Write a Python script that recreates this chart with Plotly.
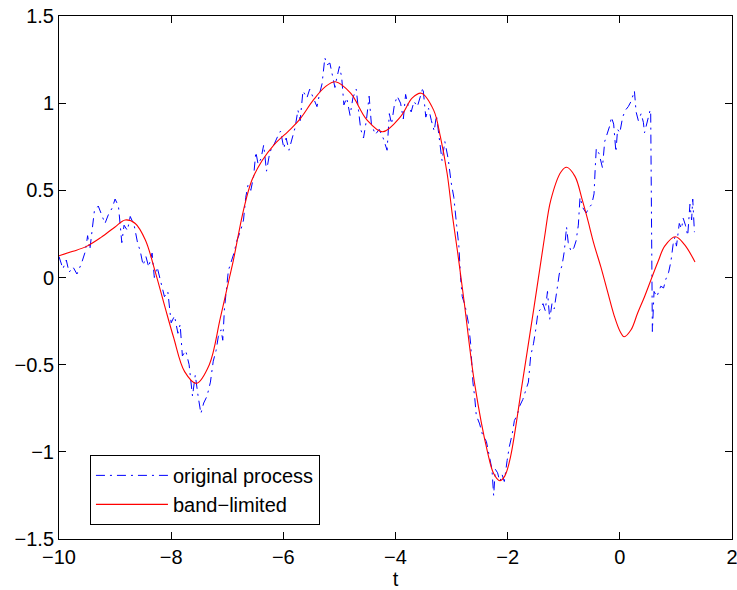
import plotly.graph_objects as go

# ---- band-limited (red) curve: sample points ----
t_band = [-10.0, -9.75, -9.5, -9.25, -9.0, -8.82, -8.64, -8.46, -8.29, -8.11,
          -7.96, -7.76, -7.55, -7.32, -7.125, -6.96, -6.89, -6.71, -6.56,
          -6.38, -6.17, -5.875, -5.70, -5.46, -5.25, -5.07, -4.80, -4.51, -4.23,
          -3.91, -3.70, -3.54, -3.32, -3.20, -3.08, -2.99, -2.89, -2.78, -2.59,
          -2.36, -2.25, -2.14, -2.05, -1.95, -1.74, -1.53, -1.35, -1.23, -1.05,
          -0.95, -0.80, -0.67, -0.58, -0.46, -0.34, -0.22, -0.10, 0.005, 0.077,
          0.20, 0.316, 0.44, 0.554, 0.68, 0.80, 0.99, 1.15, 1.34]
y_band = [0.125, 0.15, 0.18, 0.23, 0.29, 0.33, 0.31, 0.215, 0.04, -0.17,
          -0.34, -0.54, -0.607, -0.50, -0.235, 0.0, 0.10, 0.387, 0.559,
          0.67, 0.76, 0.85, 0.91, 1.02, 1.095, 1.123, 1.057, 0.904, 0.836,
          0.923, 1.03, 1.057, 0.96, 0.808, 0.598, 0.368, 0.139, -0.129, -0.607,
          -1.0, -1.124, -1.166, -1.138, -1.03, -0.607, -0.17, 0.215, 0.445, 0.605,
          0.632, 0.58, 0.445, 0.34, 0.19, 0.062, -0.08, -0.22, -0.31, -0.34,
          -0.30, -0.205, -0.11, -0.014, 0.09, 0.18, 0.234, 0.19, 0.089]

# ---- original process (blue, dash-dot): values ----
t_orig = [-10.00, -9.93, -9.87, -9.82, -9.75, -9.68, -9.60, -9.53, -9.49, -9.45,
          -9.41, -9.37, -9.30, -9.24, -9.18, -9.12, -9.05, -9.00, -8.94, -8.88,
          -8.84, -8.78, -8.73, -8.66, -8.60, -8.55, -8.50, -8.45, -8.40, -8.34,
          -8.30, -8.25, -8.18, -8.12, -8.06, -8.00, -7.94, -7.88, -7.84, -7.80,
          -7.74, -7.68, -7.62, -7.57, -7.52, -7.47, -7.42, -7.36, -7.30, -7.25,
          -7.20, -7.16, -7.11, -7.08, -7.05, -7.02, -6.98, -6.94, -6.88, -6.83,
          -6.76, -6.71, -6.67, -6.63, -6.58, -6.53, -6.49, -6.45, -6.40, -6.35,
          -6.30, -6.24, -6.17, -6.10, -6.05, -5.99, -5.95, -5.90, -5.84, -5.79,
          -5.74, -5.70, -5.65, -5.58, -5.53, -5.46, -5.40, -5.35, -5.31, -5.26,
          -5.22, -5.17, -5.13, -5.08, -5.05, -5.00, -4.96, -4.92, -4.87, -4.81,
          -4.76, -4.70, -4.66, -4.62, -4.57, -4.52, -4.47, -4.43, -4.36, -4.29,
          -4.22, -4.15, -4.11, -4.07, -4.02, -3.97, -3.91, -3.86, -3.82, -3.77,
          -3.72, -3.67, -3.61, -3.56, -3.51, -3.46, -3.41, -3.36, -3.31, -3.27,
          -3.22, -3.17, -3.12, -3.06, -3.01, -2.96, -2.91, -2.87, -2.84, -2.81,
          -2.76, -2.70, -2.66, -2.62, -2.59, -2.56, -2.50, -2.45, -2.38, -2.33,
          -2.28, -2.25, -2.22, -2.18, -2.14, -2.10, -2.06, -2.01, -1.97, -1.92,
          -1.88, -1.83, -1.79, -1.73, -1.68, -1.63, -1.59, -1.54, -1.50, -1.46,
          -1.41, -1.37, -1.33, -1.29, -1.25, -1.21, -1.17, -1.13, -1.08, -1.03,
          -0.99, -0.95, -0.92, -0.87, -0.82, -0.78, -0.74, -0.71, -0.66, -0.60,
          -0.55, -0.50, -0.46, -0.44, -0.42, -0.37, -0.31, -0.27, -0.22, -0.18,
          -0.15, -0.11, -0.07, -0.04, 0.00, 0.05, 0.10, 0.15, 0.20, 0.26,
          0.29, 0.33, 0.38, 0.42, 0.44, 0.49, 0.54, 0.55, 0.58, 0.61,
          0.66, 0.73, 0.78, 0.82, 0.87, 0.91, 0.95, 0.98, 1.01, 1.06,
          1.10, 1.13, 1.17, 1.21, 1.25, 1.28, 1.30, 1.33]
y_orig = [0.12, 0.05, 0.10, 0.03, 0.06, 0.02, 0.08, 0.15, 0.24, 0.16,
          0.27, 0.38, 0.41, 0.36, 0.31, 0.36, 0.40, 0.45, 0.41, 0.20,
          0.30, 0.27, 0.35, 0.30, 0.20, 0.15, 0.07, 0.12, 0.06, 0.14,
          0.00, 0.06, -0.03, -0.11, -0.08, -0.26, -0.22, -0.32, -0.27, -0.45,
          -0.42, -0.50, -0.68, -0.56, -0.68, -0.78, -0.72, -0.68, -0.60, -0.48,
          -0.42, -0.34, -0.30, -0.36, -0.18, -0.10, 0.04, 0.08, 0.14, 0.21,
          0.27, 0.33, 0.46, 0.53, 0.50, 0.58, 0.72, 0.65, 0.68, 0.76,
          0.61, 0.72, 0.76, 0.81, 0.84, 0.74, 0.80, 0.73, 0.80, 0.86,
          0.96, 0.90, 1.07, 1.03, 1.08, 1.02, 0.98, 1.06, 1.11, 1.26,
          1.22, 1.23, 1.17, 1.09, 1.14, 1.21, 1.15, 0.99, 1.03, 0.93,
          1.03, 1.08, 0.96, 0.85, 0.80, 0.90, 1.04, 0.88, 0.82, 0.85,
          0.80, 0.73, 0.94, 0.88, 0.99, 1.04, 1.00, 0.91, 1.05, 0.98,
          0.95, 1.01, 0.98, 1.04, 1.09, 0.92, 0.97, 0.90, 0.84, 0.93,
          0.80, 0.67, 0.78, 0.68, 0.55, 0.46, 0.30, 0.18, 0.00, -0.11,
          -0.16, -0.26, -0.38, -0.60, -0.68, -0.79, -0.84, -0.90, -0.94, -1.03,
          -1.10, -1.25, -1.10, -1.12, -1.17, -1.13, -1.17, -1.05, -0.97, -0.90,
          -0.82, -0.79, -0.74, -0.70, -0.65, -0.60, -0.45, -0.38, -0.30, -0.20,
          -0.18, -0.15, -0.19, -0.08, -0.24, -0.15, -0.18, -0.09, 0.02, 0.07,
          0.15, 0.29, 0.20, 0.15, 0.17, 0.21, 0.30, 0.46, 0.40, 0.37,
          0.40, 0.42, 0.48, 0.62, 0.74, 0.71, 0.63, 0.78, 0.83, 0.87,
          0.92, 0.88, 0.72, 0.85, 0.83, 0.92, 0.96, 0.98, 1.01, 1.07,
          0.95, 0.90, 0.94, 0.89, 0.83, 0.90, 0.96, 0.96, -0.31, -0.08,
          -0.11, -0.05, -0.06, -0.01, 0.03, 0.09, 0.19, 0.23, 0.18, 0.31,
          0.28, 0.34, 0.30, 0.24, 0.42, 0.33, 0.45, 0.26]

x_ticks = [-10, -8, -6, -4, -2, 0, 2]
y_ticks = [-1.5, -1, -0.5, 0, 0.5, 1, 1.5]
x_label = "t"
series_names = ["original process", "band\u2212limited"]

FONT = "Liberation Sans, Arial, Helvetica, sans-serif"
FS = 20

fig = go.Figure()
fig.add_trace(go.Scatter(
    x=t_orig, y=y_orig, mode="lines", name=series_names[0],
    line=dict(color="rgb(0,0,255)", width=1, dash="9px,5px,2px,5px"),
))
fig.add_trace(go.Scatter(
    x=t_band, y=y_band, mode="lines", name=series_names[1],
    line=dict(color="rgb(255,0,0)", width=1.1, shape="spline", smoothing=1.0),
))

axis_common = dict(
    showgrid=False, zeroline=False, showline=True, linecolor="black", linewidth=1,
    mirror="ticks", ticks="inside", ticklen=7, tickcolor="black", tickwidth=1,
    tickfont=dict(family=FONT, size=FS, color="black"), automargin=False,
    ticklabeloverflow="allow",
)

fig.update_layout(
    width=737, height=590,
    margin=dict(l=59, r=5, t=16, b=51),
    paper_bgcolor="white", plot_bgcolor="white",
    font=dict(family=FONT, size=FS, color="black"),
    xaxis=dict(range=[-10, 2], tickvals=x_ticks,
               title=dict(text=x_label, font=dict(family=FONT, size=FS), standoff=0),
               **axis_common),
    yaxis=dict(range=[-1.5, 1.5], tickvals=y_ticks, **axis_common),
    legend=dict(x=0.046, y=0.027, xanchor="left", yanchor="bottom",
                bgcolor="white", bordercolor="black", borderwidth=1,
                font=dict(family=FONT, size=FS, color="black"),
                itemwidth=72, tracegroupgap=0),
    showlegend=True,
)

fig.write_html(
    "out.html",
    config={"displayModeBar": False},
    post_script="document.body.style.margin='0';document.body.style.overflow='hidden';",
)
